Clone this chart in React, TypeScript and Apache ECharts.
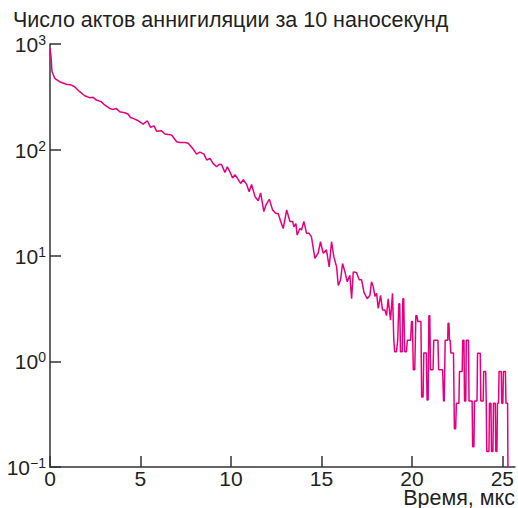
import React, { useEffect, useRef } from "react";
import * as echarts from "echarts";

// Time, µs
const timeUs: number[] = [
  0.0, 0.05, 0.11, 0.26, 0.53, 0.9, 1.18, 1.36, 1.64, 1.92, 2.19, 2.38, 2.56, 2.83, 3.02, 3.3, 3.48, 3.66, 3.85, 4.13,
  4.31, 4.45, 4.65, 4.88, 5.15, 5.38, 5.56, 5.75, 5.89, 6.17, 6.35, 6.72, 7.0, 7.18, 7.46, 7.64, 7.92, 8.1, 8.29, 8.51,
  8.66, 8.84, 9.02, 9.21, 9.35, 9.49, 9.67, 9.8, 9.94, 10.09, 10.22, 10.35, 10.54, 10.68, 10.87, 11.01, 11.14, 11.33, 11.51, 11.64,
  11.82, 11.93, 12.12, 12.3, 12.49, 12.61, 12.75, 12.89, 13.08, 13.26, 13.41, 13.48, 13.59, 13.66, 13.81, 13.9, 14.03, 14.18, 14.32, 14.45,
  14.64, 14.82, 14.95, 15.1, 15.28, 15.43, 15.56, 15.69, 15.84, 15.93, 16.06, 16.17, 16.3, 16.43, 16.57, 16.67, 16.76, 16.94, 17.09, 17.22,
  17.35, 17.53, 17.68, 17.77, 17.86, 17.96, 18.05, 18.14, 18.27, 18.38, 18.51, 18.6, 18.69, 18.82, 18.93,
  19.0, 19.05, 19.15, 19.22, 19.28, 19.33, 19.37, 19.47, 19.5, 19.55, 19.6, 19.7, 19.75, 19.93, 19.98, 20.03, 20.08, 20.16,
  20.22, 20.28, 20.33, 20.5, 20.54, 20.62, 20.66, 20.8, 20.84, 20.9, 20.94, 20.99, 21.03, 21.17, 21.21, 21.44, 21.48, 21.7,
  21.75, 21.79, 21.84, 21.98, 22.0, 22.05, 22.08, 22.12, 22.15, 22.3, 22.35, 22.42, 22.46, 22.6, 22.63, 22.78, 22.81, 22.88,
  22.91, 22.98, 23.01, 23.13, 23.16, 23.33, 23.36, 23.43, 23.46, 23.6, 23.63, 23.78, 23.81, 23.94, 23.97, 24.08, 24.11, 24.14,
  24.26, 24.29, 24.37, 24.4, 24.48, 24.51, 24.61, 24.64, 24.7, 24.73, 24.79, 24.82, 24.94, 24.97, 25.03, 25.06, 25.17, 25.2,
  25.29, 25.31,
];

// Annihilation events per 10 ns
const counts: number[] = [
  910, 780, 550, 474, 440, 416, 409, 394, 354, 324, 311, 313, 295, 285, 265, 246, 241, 246, 229, 224,
  218, 202, 196, 188, 175, 188, 163, 168, 150, 151, 141, 138, 119, 117, 117, 115, 101, 91, 95, 91,
  80, 83, 74, 69, 73, 72, 61, 69, 62, 54, 58, 54, 48, 52, 47, 40, 47, 36, 33, 39,
  26, 30, 34, 27, 25, 25, 21, 18, 27, 21, 21, 18.7, 20, 15.6, 18, 17.4, 21, 16.2, 16.2, 15,
  9.4, 10.5, 13.5, 10.5, 11.3, 7.8, 13.5, 9.7, 7.8, 5.2, 5.9, 8.4, 7.0, 5.65, 6.5, 3.9, 7.0, 6.9, 5.9, 5.9,
  4.5, 3.9, 4.2, 5.65, 5.1, 4.1, 4.4, 3.16, 4.2, 3.05, 3.05, 2.7, 3.9, 2.45, 4.4,
  1.6, 1.23, 1.23, 1.6, 3.5, 3.5, 1.23, 1.23, 3.9, 3.9, 1.23, 1.23, 1.58, 1.58, 2.37, 2.37, 0.83, 0.83,
  2.7, 2.7, 2.37, 2.37, 0.46, 0.46, 1.2, 1.2, 0.43, 0.43, 2.7, 2.7, 0.83, 0.83, 1.58, 1.58, 0.83, 0.83,
  0.42, 0.42, 1.58, 1.58, 2.29, 2.29, 1.58, 1.58, 1.2, 1.2, 0.23, 0.23, 0.4, 0.4, 0.8, 0.8, 1.58, 1.58,
  0.42, 0.42, 1.58, 1.58, 0.42, 0.42, 0.155, 0.155, 0.42, 0.42, 1.19, 1.19, 0.42, 0.42, 0.8, 0.8, 0.42, 0.14,
  0.14, 0.4, 0.4, 0.14, 0.14, 0.4, 0.4, 0.14, 0.14, 0.4, 0.4, 0.8, 0.8, 0.4, 0.4, 0.8, 0.8, 0.4,
  0.4, 0.1,
];

const xTicks: number[] = [0, 5, 10, 15, 20, 25];
const yTicks: number[] = [0.1, 1, 10, 100, 1000];

const titleText = "Число актов аннигиляции за 10 наносекунд";
const xAxisTitle = "Время, мкс";

export default function App() {
  const ref = useRef<HTMLDivElement>(null);

  useEffect(() => {
    if (!ref.current) return;
    const chart = echarts.init(ref.current, undefined, { renderer: "svg" });
    const data = timeUs.map((t, i) => [t, counts[i]]);
    const font = "'Liberation Sans', Arial, sans-serif";
    const ink = "#231f20";
    chart.setOption({
      animation: false,
      textStyle: { fontFamily: font },
      grid: { left: 50, right: 3, top: 44, bottom: 41 },
      xAxis: {
        type: "value",
        min: 0,
        max: 25.7,
        interval: 5,
        axisLine: { show: true, lineStyle: { color: "#333", width: 1.5 } },
        axisTick: { show: true, inside: true, length: 11, customValues: xTicks, lineStyle: { color: "#333", width: 1.5 } },
        axisLabel: { customValues: xTicks, fontSize: 21, lineHeight: 16, color: ink, margin: 3, fontFamily: font },
        splitLine: { show: false },
      },
      yAxis: {
        type: "log",
        logBase: 10,
        min: 0.1,
        max: 1000,
        axisLine: { show: true, lineStyle: { color: "#333", width: 1.5 } },
        axisTick: { show: true, inside: true, length: 11, customValues: yTicks, lineStyle: { color: "#333", width: 1.5 } },
        axisLabel: {
          customValues: yTicks,
          margin: 4,
          color: ink,
          fontFamily: font,
          formatter: (v: number) => {
            const e = Math.round(Math.log10(v));
            const s = e < 0 ? "\u2212" + Math.abs(e) : String(e);
            return "{b|10}{s|" + s + "}";
          },
          rich: {
            b: { fontSize: 21, lineHeight: 22, color: ink, fontFamily: font, verticalAlign: "bottom" },
            s: { fontSize: 14, lineHeight: 10, color: ink, fontFamily: font, verticalAlign: "top" },
          },
        },
        splitLine: { show: false },
      },
      graphic: [
        {
          type: "text",
          left: 13,
          top: 9,
          style: { text: titleText, fontSize: 21.5, lineHeight: 20, fill: ink, fontFamily: font },
        },
        {
          type: "text",
          right: 3,
          top: 487,
          style: { text: xAxisTitle, fontSize: 21.5, lineHeight: 18, fill: ink, fontFamily: font },
        },
      ],
      series: [
        {
          type: "line",
          data,
          showSymbol: false,
          clip: true,
          lineStyle: { color: "#e6007e", width: 1.5 },
        },
      ],
    });
    return () => chart.dispose();
  }, []);

  return (
    <div
      ref={ref}
      style={{ position: "absolute", left: 0, top: 0, width: 518, height: 508 }}
    />
  );
}
